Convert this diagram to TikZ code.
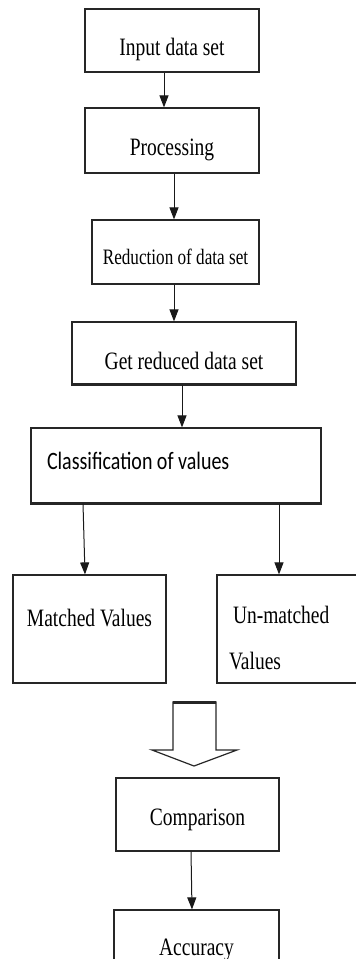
\documentclass[tikz,border=0pt]{standalone}
\usepackage{fontspec}
\setmainfont{Liberation Serif}[FakeStretch=0.78]
\newfontfamily\calibrifont{Carlito}[FakeStretch=0.8]
\usepackage{tikz}
\usetikzlibrary{arrows.meta,positioning}

\begin{document}
\begin{tikzpicture}[x = 1pt, y = -1pt,
  box/.style = {draw = black!85, line width = 1.2pt, shape = rectangle, inner sep = 0pt, font = \fontsize{25}{30}\selectfont},
  arr/.style = {-{Triangle[length = 12pt, width = 9pt]}, line width = 1pt, draw = black!90}]
\useasboundingbox (0,0) rectangle (356,959);
\clip (0,0) rectangle (356,959);

\node[box, minimum width = 174pt, minimum height = 63pt, text height = 29pt, text depth = 0pt] (input) at (172,40.5) {Input data set};
\node[box, minimum width = 174pt, minimum height = 65pt, text height = 29pt, text depth = 0pt] (proc) at (172,140.5) {Processing};
\node[box, minimum width = 167pt, minimum height = 64pt, text height = 24pt, text depth = 0pt, font = \fontsize{22}{26}\selectfont] (reduce) at (175.5,252) {Reduction of data set};
\node[box, minimum width = 224pt, minimum height = 62pt, text height = 32pt, text depth = 0pt] (getred) at (184,353) {Get reduced data set};
\node[box, minimum width = 290pt, minimum height = 75pt, text height = 7pt, text depth = 0pt, text width = 258pt, align = left, font = \calibrifont\fontsize{25}{30}\selectfont] (class) at (176,465.5) {\spaceskip 4.5pt\relax Classification of values};
\node[box, minimum width = 153pt, minimum height = 108pt, text height = 0pt, text depth = 6pt] (matched) at (89.5,629) {Matched Values};
\node[box, minimum width = 155pt, minimum height = 108pt, text width = 131pt, align = left] (unmatched) at (294.5,629) {\rule{0pt}{35pt}\hspace{4pt}Un-matched\\[16pt]Values};
\node[box, minimum width = 163pt, minimum height = 73pt, text height = 21pt, text depth = 0pt] (comp) at (197.5,814.5) {Comparison};
\node[box, minimum width = 165pt, minimum height = 70pt, text height = 20pt, text depth = 0pt] (acc) at (196.5,945) {Accuracy};

\draw[line width = 3pt, black!85] (getred.south west) -- (getred.south east);
\draw[line width = 3pt, black!85] (class.south west) -- (class.south east);

\draw[arr] ([xshift = -8pt]input.south) -- ([xshift = -8pt]proc.north);
\draw[arr] ([xshift = 2pt]proc.south) -- ([xshift = -1.5pt]reduce.north);
\draw[arr] ([xshift = -1.5pt]reduce.south) -- ([xshift = -10pt]getred.north);
\draw[arr] ([xshift = -2pt]getred.south) -- ([xshift = 6pt]class.north);
\draw[arr] ([xshift = -93pt]class.south) -- ([xshift = -4.5pt]matched.north);
\draw[arr] ([xshift = 103pt]class.south) -- ([xshift = -15.5pt]unmatched.north);
\draw[arr] ([xshift = -6.5pt]comp.south) -- ([xshift = -4.5pt]acc.north);

\draw[line width = 1.2pt, black!85] (173,750) -- (173,702) -- (216,702) -- (216,750) -- (237,750) -- (194,766) -- (152,750) -- cycle;
\draw[line width = 3pt, black!85] (173,702) -- (216,702);
\end{tikzpicture}
\end{document}
